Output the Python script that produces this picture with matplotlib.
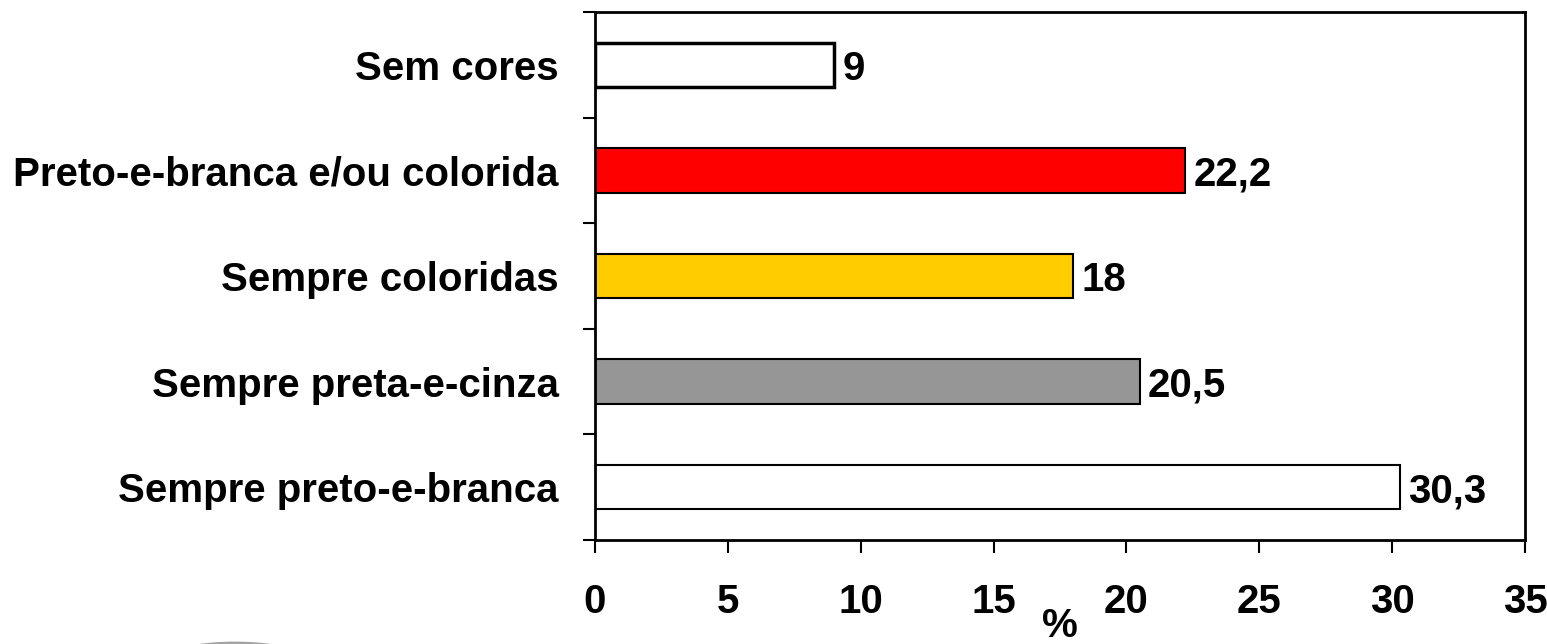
import matplotlib
matplotlib.use('Agg')
from matplotlib import pyplot as plt
from matplotlib.patches import Ellipse

# Categories listed bottom to top
categories = ['Sempre preto-e-branca', 'Sempre preta-e-cinza', 'Sempre coloridas',
              'Preto-e-branca e/ou colorida', 'Sem cores']
values = [30.3, 20.5, 18, 22.2, 9]
value_labels = ['30,3', '20,5', '18', '22,2', '9']
bar_colors = ['#FFFFFF', '#969696', '#FFCC00', '#FF0000', '#FFFFFF']
edge_widths = [1.5, 1.5, 1.5, 1.5, 2.5]

plt.rcParams['font.family'] = ['Liberation Sans', 'DejaVu Sans']
plt.rcParams['font.weight'] = 'bold'
font_size = 29

fig = plt.figure(figsize=(15.47, 6.44), dpi=100)
ax = fig.add_axes([595/1547, 1-540/644, (1525-595)/1547, (540-12)/644])

positions = list(range(len(categories)))
bars = ax.barh(positions, values, height=0.42, color=bar_colors,
               edgecolor='black', linewidth=edge_widths)

# value labels just past the end of each bar
for bar, text in zip(bars, value_labels):
    ax.annotate(text, xy=(bar.get_width(), bar.get_y() + bar.get_height()/2),
                xytext=(6, 0), textcoords='offset points',
                ha='left', va='center_baseline', fontsize=font_size, fontweight='bold')

ax.set_xlim(0, 35)
ax.set_ylim(-0.5, len(categories) - 0.5)
ax.set_xticks(range(0, 36, 5))
ax.tick_params(axis='x', length=9, width=1.5, pad=22, labelsize=font_size)

# tick marks sit between categories, labels at the bar centres
ax.set_yticks([p - 0.5 for p in positions] + [len(categories) - 0.5])
ax.set_yticklabels([])
ax.set_yticks(positions, minor=True)
ax.set_yticklabels(categories, minor=True)
ax.tick_params(axis='y', which='major', length=9, width=1.5)
ax.tick_params(axis='y', which='minor', length=0, pad=26, labelsize=font_size)
for label in ax.get_yticklabels(minor=True):
    label.set_verticalalignment('center_baseline')

for spine in ax.spines.values():
    spine.set_linewidth(2)

ax.set_xlabel('%', fontsize=font_size, fontweight='bold', labelpad=-10)

# faint grey arc at the lower left edge
fig.patches.append(Ellipse((235/1547, -10/644), 115/1547, 22/644,
                           transform=fig.transFigure, fill=False,
                           edgecolor='#666666', linewidth=2, alpha=0.6))

fig.savefig('out.png', dpi=100)
